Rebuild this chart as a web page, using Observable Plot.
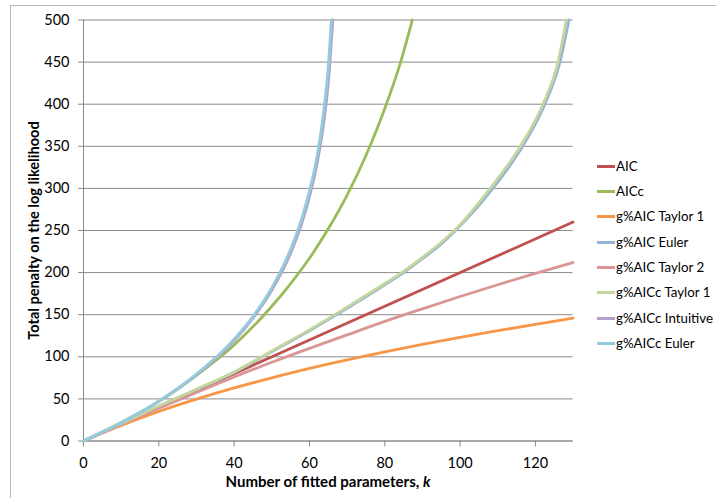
<!DOCTYPE html>
<html><head><meta charset="utf-8">
<script src="https://cdn.jsdelivr.net/npm/d3@7"></script>
<script src="https://cdn.jsdelivr.net/npm/@observablehq/plot@0.6"></script>
<style>
html,body{margin:0;padding:0;background:#fff;overflow:hidden;}
#wrap{position:relative;width:716px;height:498px;font-family:Lato,sans-serif;color:#000;overflow:hidden;}
#frame{position:absolute;left:10px;top:5px;width:730px;height:520px;border:1px solid #b8b8b8;box-sizing:border-box;}
#chart{position:absolute;left:0;top:0;}
.lg{position:absolute;left:597px;height:20px;white-space:nowrap;font-size:13.3px;line-height:20px;}
.lg i{display:inline-block;width:18px;height:3px;vertical-align:middle;margin-right:1px;position:relative;top:-1px;}
#xtitle{position:absolute;left:0;width:656px;text-align:center;top:472px;font-size:15px;font-weight:bold;white-space:nowrap;}
</style></head>
<body><div id="wrap"><div id="frame"></div><div id="chart"></div><div id="legend"></div>
<div id="xtitle">Number of fitted parameters, <i>k</i></div></div>
<script>
// series names and colours (legend order = draw order)
const seriesNames = ["AIC","AICc","g%AIC Taylor 1","g%AIC Euler","g%AIC Taylor 2","g%AICc Taylor 1","g%AICc Intuitive","g%AICc Euler"];
const seriesColors = ["#C0504D","#9BBB59","#F79646","#95B3D7","#D99694","#C3D69B","#B3A2C7","#93CDDD"];

// [k, penalty] pairs
const aic = [[0,0],[130,260]];
const aicc = [[0,0],[10,22],[20,47],[30,78],[40,114],[50,160],[55,187],[60,217],[65,252],[70,292],[75,339],[80,395],[84,447],[87.3,500]];
const gAicTaylor1 = [[0,0],[10,18.6],[20,35.2],[30,49.8],[40,63],[50,75],[60,86.2],[70,96.4],[80,105.8],[90,114.7],[100,123],[110,131],[120,138.6],[130,145.8]];
const gAicEuler = [[0,0],[10,20.5],[20,41.5],[30,61],[40,81.5],[50,106],[60,131],[70,157.5],[80,185.5],[85,200],[90,216.5],[95,234],[98.8,250],[108.7,300],[116.6,350],[122.5,400],[126.5,450],[128.9,500]];
const gAicTaylor2 = [[0,0],[10,19.7],[20,39],[30,57.6],[40,76],[50,93.5],[60,110],[70,126],[80,142],[90,157],[100,171.6],[110,185.6],[120,199],[130,212]];
const gAiccTaylor1 = [[0,0],[10,20.5],[20,41.5],[30,61.5],[40,82],[50,107],[60,132],[70,159],[80,187],[85,201.5],[90,218],[95,236],[98.5,250],[108,300],[116,350],[122,400],[126,450],[128.2,500]];
const gAiccIntuitive = [[0,0],[10,21.5],[20,47],[30,78.5],[40,119],[45,146],[50,179],[55,223],[58,259],[60,290],[62,329],[64,385],[65,425],[66.2,500]];
const gAiccEuler = [[0,0],[10,21.6],[20,47.4],[30,79.4],[40,121],[45,148],[50,182],[55,228],[58,265],[60,297],[62,338],[63,366],[64,400],[65,445],[65.8,500]];

const seriesData = [aic, aicc, gAicTaylor1, gAicEuler, gAicTaylor2, gAiccTaylor1, gAiccIntuitive, gAiccEuler];
const xTicks = [0,20,40,60,80,100,120];
const yTicks = [0,50,100,150,200,250,300,350,400,450,500];

const rows = seriesData.flatMap((s, i) => s.map(([k, v]) => ({series: seriesNames[i], k, v})));
const grid = "#8a8a8a";

const chart = Plot.plot({
  width: 716, height: 498,
  marginLeft: 83, marginRight: 143.4, marginTop: 19.5, marginBottom: 57.5,
  style: {fontFamily: "Lato, sans-serif", fontSize: "14px", color: "#000", background: "transparent"},
  x: {domain: [0, 130]},
  y: {domain: [0, 500]},
  color: {domain: seriesNames, range: seriesColors},
  marks: [
    Plot.gridY(yTicks, {stroke: grid, strokeOpacity: 1, strokeWidth: 1}),
    Plot.ruleX([0], {stroke: grid, strokeWidth: 1}),
    Plot.ruleY([0], {stroke: grid, strokeWidth: 1}),
    Plot.axisY(yTicks, {tickSize: 5, tickPadding: 9, stroke: grid, label: null, fontSize: 14.5}),
    Plot.axisX(xTicks, {tickSize: 6, tickPadding: 11, stroke: grid, label: null, fontSize: 14.5}),
    Plot.line(rows, {x: "k", y: "v", z: "series", stroke: "series", strokeWidth: 2.8, curve: "monotone-x"}),
    Plot.text(["Total penalty on the log likelihood"], {frameAnchor: "left", textAnchor: "middle", dx: -49, rotate: -90, fontWeight: "bold", fontSize: 14.6, fill: "#000"})
  ]
});
document.getElementById("chart").appendChild(chart);

const legend = document.getElementById("legend");
seriesNames.forEach((name, i) => {
  const d = document.createElement("div");
  d.className = "lg";
  d.style.top = (165.7 + i * 25.33 - 10) + "px";
  const sw = document.createElement("i");
  sw.style.background = seriesColors[i];
  d.appendChild(sw);
  d.appendChild(document.createTextNode(name));
  legend.appendChild(d);
});
</script>
</body></html>
